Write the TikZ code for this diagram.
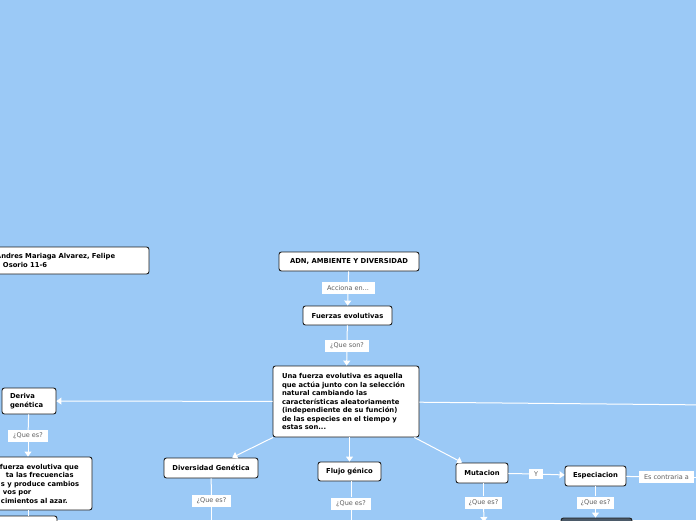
\documentclass[tikz,border=0pt]{standalone}
\usepackage{fontspec}
\setmainfont{DejaVu Sans}
\usetikzlibrary{arrows.meta,calc}
\definecolor{bg}{RGB}{155,201,246}
\definecolor{edge}{RGB}{30,30,30}
\definecolor{lbl}{RGB}{95,95,95}
\definecolor{darkbox}{RGB}{75,90,105}
\tikzset{
 box/.style={draw=edge, fill=white, line width=0.9pt, rounded corners=2.5pt,
   font=\bfseries\fontsize{6.8}{8.5}\selectfont, text=black, inner sep=0pt},
 lab/.style={fill=white, text=lbl, font=\fontsize{6.5}{7}\selectfont, inner sep=0pt, minimum height=12pt},
 conn/.style={draw=white, line width=1pt},
 arr/.style={conn, -{Triangle[length=5pt,width=7pt]}},
}
\begin{document}
\begin{tikzpicture}[x=1pt,y=-1pt]
\fill[bg] (0,0) rectangle (696,520);
\useasboundingbox (0,0) rectangle (696,520);
\begin{scope}
\clip (0,0) rectangle (696,520);
% nodes
\node[box, minimum width=169pt, minimum height=27pt, text width=169pt, align=left] (author) at (64.5,260.5)
  {\hspace*{16pt}Andres Mariaga Alvarez, Felipe\\\hspace*{23pt}Osorio 11-6};
\node[box, minimum width=140pt, minimum height=19pt] (adn) at (349,261.5) {ADN, AMBIENTE Y DIVERSIDAD};
\node[lab, minimum width=53pt] (l1) at (348,288) {Acciona en...};
\node[box, minimum width=89pt, minimum height=19pt] (fe) at (347.5,315.5) {Fuerzas evolutivas};
\node[lab, minimum width=44pt] (l2) at (347,346) {¿Que son?};
\node[box, minimum width=146pt, minimum height=71pt, text width=128pt, inner xsep=9pt, align=left] (big) at (346,401.5)
  {Una fuerza evolutiva es aquella\\que actúa junto con la selección\\natural cambiando las\\características aleatoriamente\\(independiente de su función)\\de las especies en el tiempo y\\estas son...};
\node[box, minimum width=54pt, minimum height=26pt, text width=38pt, inner xsep=8pt, align=left] (der) at (29,401) {Deriva\\genética};
\node[lab, minimum width=40pt] (l3) at (28,436) {¿Que es?};
\node[box, minimum width=112pt, minimum height=53pt, text width=112pt, align=left] (dtext) at (36,483.5)
  {\hspace*{20pt}fuerza evolutiva que\\\hspace*{26pt}ta las frecuencias\\\hspace*{21pt}s y produce cambios\\\hspace*{23pt}vos por\\\hspace*{21pt}cimientos al azar.};
\node[box, minimum width=77pt, minimum height=18pt] (dbelow) at (18.5,525) {};
\node[box, minimum width=94pt, minimum height=20pt] (div) at (211,468) {Diversidad Genética};
\node[lab, minimum width=39pt] (ld) at (211.5,501) {¿Que es?};
\node[box, minimum width=63pt, minimum height=19pt] (flu) at (349.5,471.5) {Flujo génico};
\node[lab, minimum width=40pt] (lf) at (351,503.5) {¿Que es?};
\node[box, minimum width=52pt, minimum height=20pt] (mut) at (482,473) {Mutacion};
\node[lab, minimum width=14pt, minimum height=10pt] (ly) at (536,474) {Y};
\node[box, minimum width=61pt, minimum height=20pt] (esp) at (595.5,476) {Especiacion};
\node[lab, minimum width=55pt] (lc) at (666.5,477) {Es contraria a};
\node[lab, minimum width=37pt] (lm) at (483.5,502.5) {¿Que es?};
\node[lab, minimum width=37pt] (le) at (595.5,502.5) {¿Que es?};
\node[box, fill=darkbox, minimum width=71pt, minimum height=16pt] (dark) at (596.5,526) {};
\coordinate (mutdown) at (484,522);
\coordinate (divdown) at (211.5,530);
\coordinate (fldown) at (351,530);
\coordinate (rightend) at (712,405);
\coordinate (contend) at (712,477);
% connectors
\draw[conn] (adn) -- (l1);
\draw[arr] (l1) -- (fe);
\draw[conn] (fe) -- (l2);
\draw[arr] (l2) -- (big);
\draw[arr] (big) -- (der);
\draw[arr] (big) -- (rightend);
\draw[conn] (der) -- (l3);
\draw[arr] (l3) -- (dtext.north -| l3);
\draw[conn] (dtext.south -| l3) -- (dbelow.north -| l3);
\draw[arr] (big) -- (div);
\draw[arr] (big.south -| flu) -- (flu);
\draw[arr] (big) -- (mut);
\draw[conn] (div) -- (ld);
\draw[conn] (ld) -- (divdown);
\draw[conn] (flu.south -| lf) -- (lf);
\draw[conn] (lf) -- (fldown);
\draw[conn] (mut) -- (ly);
\draw[arr] (ly) -- (esp);
\draw[conn] (esp) -- (lc);
\draw[conn] (lc) -- (contend);
\draw[conn] (mut.south -| lm) -- (lm);
\draw[arr] (lm) -- (mutdown);
\draw[conn] (esp.south -| le) -- (le);
\draw[arr] (le) -- (dark.north -| le);
\end{scope}
\end{tikzpicture}
\end{document}
